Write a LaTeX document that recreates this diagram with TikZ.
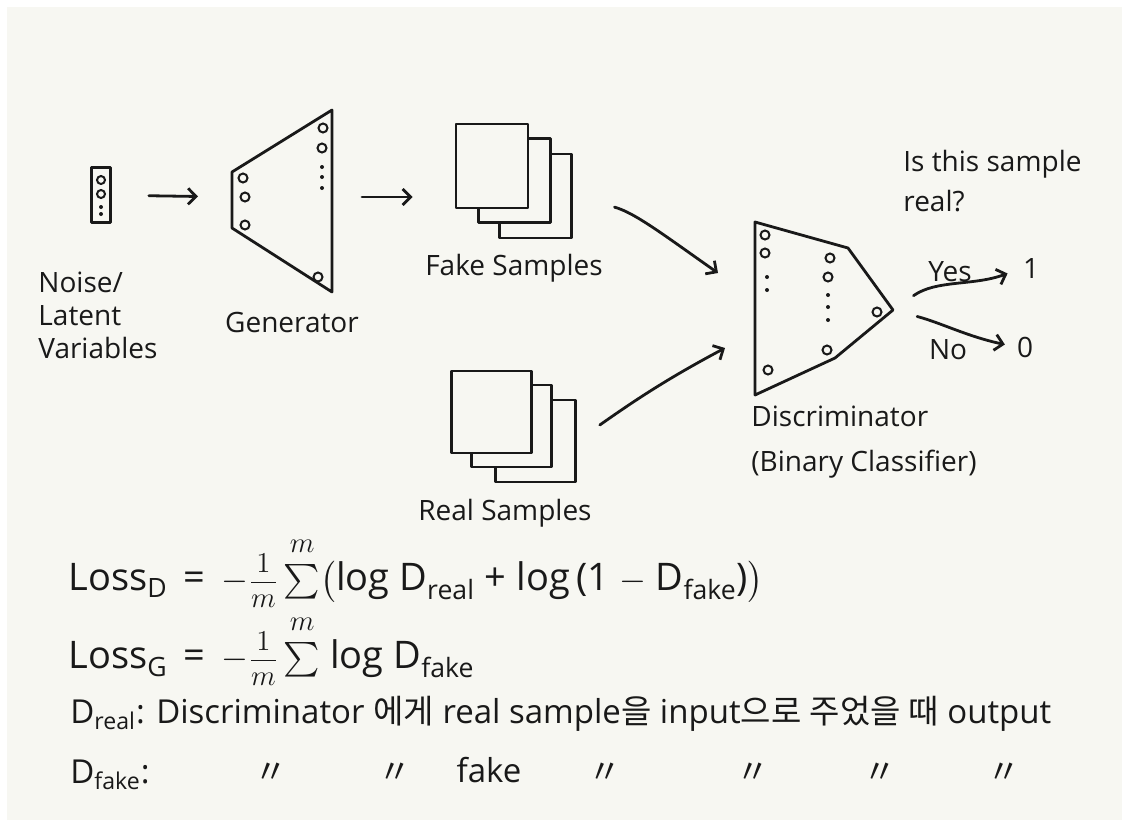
\documentclass[tikz,border=0pt]{standalone}
\usepackage{amsmath}
\usepackage{fontspec}
\setmainfont{Open Sans}
\newfontfamily\kor{Noto Sans CJK KR}
\definecolor{Paper}{RGB}{247, 247, 242}
\definecolor{Ink}{RGB}{25, 25, 25}
\newcommand{\Dreal}{D\textsubscript{real}}
\newcommand{\Dfake}{D\textsubscript{fake}}
\newcommand{\sumto}{\sum\limits^{\raisebox{3pt}{$\scriptstyle m$}}}
\newcommand{\onem}{\tfrac{\raisebox{2.5pt}{$\scriptstyle 1$}}{\raisebox{-2.5pt}{$\scriptstyle m$}}}
\usetikzlibrary{arrows.meta, positioning, calc}

\begin{document}
\begin{tikzpicture}[
            x=0.5pt, y=-0.5pt,
            >={Straight Barb[length=4pt, width=8pt]},
            ink/.style={draw=Ink, line width=1.4pt, line cap=round, line join=round},
            neuron/.style={draw=Ink, circle, line width=1pt, minimum size=4.5pt, inner sep=0pt},
            dotn/.style={fill=Ink, circle, minimum size=2pt, inner sep=0pt},
            sheet/.style={ink, fill=Paper, minimum width=36pt, minimum height=42pt, inner sep=0pt},
            lbl/.style={font=\fontsize{14}{17}\selectfont, text=Ink, inner sep=0pt, align=left},
            eq/.style={font=\fontsize{19}{23}\selectfont, text=Ink, anchor=west, inner sep=0pt},
            note/.style={font=\fontsize{16.5}{20}\selectfont, text=Ink, inner sep=0pt}
        ]

        % --- TLO ---
        \fill[white] (0,0) rectangle (1122,820);
        \fill[Paper] (7,7) rectangle (1122,820);

        % --- SZUM (WEKTOR WEJSCIOWY) ---
        \node[ink, minimum width=9.5pt, minimum height=27.5pt, inner sep=0pt] (noise) at (101,195) {};
        \node[neuron, minimum size=4pt] (n1) at (101,180) {};
        \node[neuron, minimum size=4pt] (n2) at (101,194) {};
        \node[dotn] (n3) at (101,207) {};
        \node[dotn] (n4) at (101,214) {};
        \node[lbl, anchor=north west, font=\fontsize{14}{16.5}\selectfont] (noise-lbl) at (38,272) {Noise/\\Latent\\Variables};

        % --- GENERATOR ---
        \draw[ink] (232,172) -- (332,110) -- (332,292) -- (232,228) -- cycle;
        \coordinate (gen-w) at (232,197);
        \coordinate (gen-e) at (332,197);
        \foreach \x/\y [count=\i] in {243/178, 245/197, 245/225, 323/128, 322/148, 318/277}
            \node[neuron] (g\i) at (\x,\y) {};
        \foreach \y [count=\i] in {167, 177, 188}
            \node[dotn] (gd\i) at (322,\y) {};
        \node[lbl] (gen-lbl) at (292,322) {Generator};
        \draw[ink, ->, shorten <=18.5pt, shorten >=17pt] (noise) -- (gen-w);

        % --- PROBKI: FALSZYWE I PRAWDZIWE ---
        \node[sheet] (fake3) at (535.5,196) {};
        \node[sheet] (fake2) at (514.5,180.5) {};
        \node[sheet] (fake1) at (492,166) {};
        \node[lbl] (fake-lbl) at (514,268) {Fake Samples};
        \draw[ink, ->, shorten <=15pt, shorten >=21pt] (gen-e) -- (gen-e -| fake1.west);

        \node[sheet, minimum width=40pt, minimum height=41pt] (real3) at (535.5,441) {};
        \node[sheet, minimum width=40pt, minimum height=41pt] (real2) at (511.5,426) {};
        \node[sheet, minimum width=40pt, minimum height=41pt] (real1) at (491.5,412) {};
        \node[lbl] (real-lbl) at (505,513) {Real Samples};

        % --- DYSKRYMINATOR ---
        \draw[ink] (755,222) -- (848,248) -- (893,310) -- (835,358) -- (755,395) -- cycle;
        \coordinate (disc-e) at (893,310);
        \coordinate (disc-in1) at (718,273);
        \coordinate (disc-in2) at (725,348);
        \foreach \x/\y [count=\i] in {765/235, 765/253, 768/370, 830/258, 828/277, 827/350, 877/312}
            \node[neuron] (d\i) at (\x,\y) {};
        \foreach \x/\y [count=\i] in {767/277, 767/290, 828/295, 828/307, 828/320}
            \node[dotn] (dd\i) at (\x,\y) {};
        \node[lbl, anchor=north west, font=\fontsize{14}{22.5}\selectfont] (disc-lbl) at (751,406) {Discriminator\\(Binary Classifier)};
        \node[lbl, anchor=north west, font=\fontsize{14}{20}\selectfont] (question) at (903,150) {Is this sample\\real?};

        \draw[ink, ->, shorten <=21.5pt] (fake3.east) to[out=-15, in=145] (disc-in1);
        \draw[ink, ->, shorten <=14pt] (real3.east) to[out=35, in=-152] (disc-in2);

        % --- WYJSCIE: TAK / NIE ---
        \node[lbl] (one) at (1031,268) {1};
        \node[lbl] (zero) at (1025,347) {0};
        \draw[ink, ->, shorten <=12.5pt, shorten >=8pt] (disc-e) to[out=35, in=200] (one.west);
        \draw[ink, ->, shorten <=12.5pt, shorten >=6pt] (disc-e) to[out=-15, in=168] (zero.west);
        \node[lbl] (yes-lbl) at (950,272) {Yes};
        \node[lbl] (no-lbl) at (948,350) {No};

        % --- FUNKCJE STRATY ---
        \node[eq] (lossD) at (68,572) {Loss\textsubscript{D} \,=\, $-\onem\sumto\bigl($log \Dreal{} + log\,(1 $-$ \Dfake)$\bigr)$};
        \node[eq] (lossG) at (68,650) {Loss\textsubscript{G} \,=\, $-\onem\sumto$ log \Dfake};

        \node[note, anchor=west] (dreal) at (70,714) {\Dreal: Discriminator {\kor 에게} real sample{\kor 을} input{\kor 으로} {\kor 주었을 때} output};
        \node[note, anchor=west] (dfake) at (70,775) {\Dfake:};
        \node[note] (fake-word) at (489,770) {fake};
        \foreach \x [count=\i] in {271, 395, 605, 753, 880, 1004}
            \node[note] (ditto\i) at (\x,773) {{\kor 〃}};

        \end{tikzpicture}
\end{document}
